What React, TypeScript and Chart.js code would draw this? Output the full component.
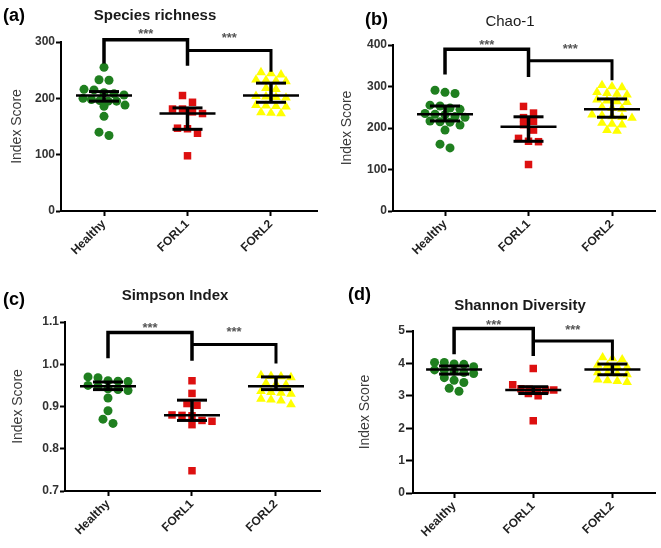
import React, { useEffect, useRef } from 'react';
import { Chart, registerables } from 'chart.js';

Chart.register(...registerables);

const FONT = '"Liberation Sans", Arial, Helvetica, sans-serif';

const categories = ['Healthy', 'FORL1', 'FORL2'];

// (a) Species richness
const richnessHealthy = [255, 233, 232, 216, 215, 210, 208, 206, 200, 198, 196, 195, 195, 188, 186, 168, 140, 134];
const richnessFORL1 = [205, 193, 181, 181, 176, 173, 147, 146, 138, 98];
const richnessFORL2 = [246, 244, 242, 233, 232, 231, 230, 218, 216, 204, 203, 202, 201, 188, 187, 186, 185, 175, 174, 173];
const richnessMean = [205, 173, 205];
const richnessLow = [195, 145, 193];
const richnessHigh = [212, 183, 227];
const richnessTicks = [0, 100, 200, 300];
const richnessBracket = [304, 262, 258, 285, 247];
const richnessStars = [318, 311];

// (b) Chao-1
const chaoHealthy = [291, 286, 283, 255, 253, 248, 245, 235, 233, 232, 228, 226, 217, 215, 214, 207, 195, 161, 152];
const chaoFORL1 = [252, 236, 225, 216, 208, 195, 175, 168, 167, 112];
const chaoFORL2 = [303, 300, 298, 286, 284, 282, 280, 268, 266, 264, 262, 250, 248, 246, 232, 230, 228, 226, 224, 212, 210, 208, 195, 193];
const chaoMean = [233, 203, 245];
const chaoLow = [217, 168, 226];
const chaoHigh = [253, 227, 270];
const chaoTicks = [0, 100, 200, 300, 400];
const chaoBracket = [390, 329, 323, 362, 315];
const chaoStars = [406, 396];

// (c) Simpson Index
const simpsonHealthy = [0.97, 0.968, 0.961, 0.96, 0.959, 0.95, 0.948, 0.942, 0.94, 0.938, 0.92, 0.89, 0.87, 0.86];
const simpsonFORL1 = [0.961, 0.931, 0.907, 0.903, 0.88, 0.879, 0.878, 0.867, 0.865, 0.857, 0.748];
const simpsonFORL2 = [0.974, 0.972, 0.971, 0.969, 0.955, 0.953, 0.951, 0.936, 0.934, 0.932, 0.93, 0.918, 0.916, 0.914, 0.905];
const simpsonMean = [0.948, 0.879, 0.948];
const simpsonLow = [0.94, 0.867, 0.94];
const simpsonHigh = [0.958, 0.915, 0.97];
const simpsonTicks = [0.7, 0.8, 0.9, 1.0, 1.1];
const simpsonBracket = [1.075, 1.014, 1.008, 1.047, 1.002];
const simpsonStars = [1.091, 1.082];

// (d) Shannon Diversity
const shannonHealthy = [4.03, 4.03, 3.98, 3.97, 3.9, 3.8, 3.79, 3.76, 3.72, 3.69, 3.56, 3.48, 3.41, 3.23, 3.14];
const shannonFORL1 = [3.84, 3.34, 3.22, 3.2, 3.19, 3.18, 3.18, 3.07, 3.0, 2.23];
const shannonFORL2 = [4.18, 4.15, 4.12, 3.95, 3.93, 3.9, 3.88, 3.72, 3.7, 3.68, 3.66, 3.5, 3.47, 3.45, 3.42];
const shannonMean = [3.81, 3.18, 3.81];
const shannonLow = [3.67, 3.07, 3.65];
const shannonHigh = [3.92, 3.28, 3.98];
const shannonTicks = [0, 1, 2, 3, 4, 5];
const shannonBracket = [5.08, 4.28, 4.23, 4.69, 4.1];
const shannonStars = [5.25, 5.12];

type Box = { left: number; top: number; w: number; h: number };
type Area = { left: number; top: number; right: number; bottom: number };
type Panel = {
  letter: string;
  title: string;
  titleWeight: string;
  groups: number[][];
  mean: number[];
  low: number[];
  high: number[];
  ticks: number[];
  decimals: number;
  bracket: number[];
  stars: number[];
  box: Box;
  area: Area;
  xMin: number;
  xMax: number;
  titlePos: [number, number];
  letterPos: [number, number];
  yTitlePad: number;
  tickLen: number;
};

const panels: Panel[] = [
  {
    letter: '(a)', title: 'Species richness', titleWeight: 'bold',
    groups: [richnessHealthy, richnessFORL1, richnessFORL2],
    mean: richnessMean, low: richnessLow, high: richnessHigh,
    ticks: richnessTicks, decimals: 0, bracket: richnessBracket, stars: richnessStars,
    box: { left: 0, top: 0, w: 330, h: 270 },
    area: { left: 61, top: 42, right: 317, bottom: 211 },
    xMin: 0.485, xMax: 3.551,
    titlePos: [155, 16], letterPos: [3, 16.5], yTitlePad: 9, tickLen: 5,
  },
  {
    letter: '(b)', title: 'Chao-1', titleWeight: 'normal',
    groups: [chaoHealthy, chaoFORL1, chaoFORL2],
    mean: chaoMean, low: chaoLow, high: chaoHigh,
    ticks: chaoTicks, decimals: 0, bracket: chaoBracket, stars: chaoStars,
    box: { left: 330, top: 0, w: 331, h: 270 },
    area: { left: 63, top: 45, right: 325, bottom: 211 },
    xMin: 0.377, xMax: 3.515,
    titlePos: [180, 20], letterPos: [35, 20.5], yTitlePad: 9, tickLen: 5,
  },
  {
    letter: '(c)', title: 'Simpson Index', titleWeight: 'bold',
    groups: [simpsonHealthy, simpsonFORL1, simpsonFORL2],
    mean: simpsonMean, low: simpsonLow, high: simpsonHigh,
    ticks: simpsonTicks, decimals: 1, bracket: simpsonBracket, stars: simpsonStars,
    box: { left: 0, top: 270, w: 330, h: 278 },
    area: { left: 65, top: 52, right: 320, bottom: 221 },
    xMin: 0.488, xMax: 3.524,
    titlePos: [175, 26], letterPos: [3, 30], yTitlePad: 10, tickLen: 5,
  },
  {
    letter: '(d)', title: 'Shannon Diversity', titleWeight: 'bold',
    groups: [shannonHealthy, shannonFORL1, shannonFORL2],
    mean: shannonMean, low: shannonLow, high: shannonHigh,
    ticks: shannonTicks, decimals: 0, bracket: shannonBracket, stars: shannonStars,
    box: { left: 330, top: 270, w: 331, h: 278 },
    area: { left: 83, top: 61, right: 331, bottom: 223 },
    xMin: 0.481, xMax: 3.543,
    titlePos: [190, 36], letterPos: [18, 25], yTitlePad: 27, tickLen: 7,
  },
];

const groupStyles = [
  { pointStyle: 'circle', radius: 4.5, color: '#1f7f1f' },
  { pointStyle: 'rect', radius: 5.3, color: '#dd1010' },
  { pointStyle: 'triangle', radius: 5.6, color: '#ffff00' },
];

// GraphPad-like column scatter: values within one marker height share a centred row,
// rows wider than the column are compressed.
function swarm(values: number[], center: number, step: number, maxHalf: number, tol: number) {
  const order = values.map((_, i) => i).sort((a, b) => values[b] - values[a]);
  const pts: { x: number; y: number }[] = new Array(values.length);
  let row: number[] = [];
  const flush = () => {
    const n = row.length;
    const half = Math.min(((n - 1) / 2) * step, maxHalf);
    row.forEach((k, j) => {
      const off = n > 1 ? -half + (2 * half * j) / (n - 1) : 0;
      pts[k] = { x: center + off, y: values[k] };
    });
    row = [];
  };
  for (const k of order) {
    if (row.length && values[row[0]] - values[k] >= tol) flush();
    row.push(k);
  }
  flush();
  return pts;
}

function makeOverlay(p: Panel) {
  return {
    id: 'overlay' + p.letter,
    afterDatasetsDraw(chart: any) {
      const { ctx } = chart;
      const xs = chart.scales.x;
      const ys = chart.scales.y;
      const X = (v: number) => xs.getPixelForValue(v);
      const Y = (v: number) => ys.getPixelForValue(v);
      ctx.save();
      ctx.strokeStyle = '#000';
      ctx.lineCap = 'butt';
      const line = (x1: number, y1: number, x2: number, y2: number, w: number) => {
        ctx.lineWidth = w;
        ctx.beginPath();
        ctx.moveTo(x1, y1);
        ctx.lineTo(x2, y2);
        ctx.stroke();
      };
      for (let i = 0; i < 3; i++) {
        const cx = X(i + 1);
        const my = Y(p.mean[i]);
        const ly = Y(p.low[i]);
        const hy = Y(p.high[i]);
        line(cx, ly, cx, hy, 3.5);
        line(cx - 15, hy, cx + 15, hy, 3);
        line(cx - 15, ly, cx + 15, ly, 3);
        line(cx - 28, my, cx + 28, my, 2.5);
      }
      // significance brackets
      const [top1, foot1, foot2, top2, foot3] = p.bracket;
      const x1 = X(1), x2 = X(2), x3 = X(3);
      ctx.lineJoin = 'miter';
      ctx.lineWidth = 3.5;
      ctx.beginPath();
      ctx.moveTo(x1, Y(foot1));
      ctx.lineTo(x1, Y(top1));
      ctx.lineTo(x2, Y(top1));
      ctx.lineTo(x2, Y(foot2));
      ctx.stroke();
      ctx.lineWidth = 3;
      ctx.beginPath();
      ctx.moveTo(x2, Y(top2));
      ctx.lineTo(x3, Y(top2));
      ctx.lineTo(x3, Y(foot3));
      ctx.stroke();
      // stars
      ctx.font = `bold 13px ${FONT}`;
      ctx.fillStyle = '#555';
      ctx.textAlign = 'center';
      ctx.textBaseline = 'alphabetic';
      const drawCentered = (t: string, x: number, y: number) => {
        const m = ctx.measureText(t);
        const off = (m.actualBoundingBoxAscent - m.actualBoundingBoxDescent) / 2;
        ctx.fillText(t, x, y + off);
      };
      drawCentered('***', (x1 + x2) / 2, Y(p.stars[0]));
      drawCentered('***', (x2 + x3) / 2, Y(p.stars[1]));
      // panel title and letter
      ctx.fillStyle = '#1a1a1a';
      ctx.font = `${p.titleWeight} 15px ${FONT}`;
      ctx.textAlign = 'center';
      drawCentered(p.title, p.titlePos[0], p.titlePos[1]);
      ctx.fillStyle = '#000';
      ctx.font = `bold 18px ${FONT}`;
      ctx.textAlign = 'left';
      drawCentered(p.letter, p.letterPos[0], p.letterPos[1]);
      ctx.restore();
    },
  };
}

function PanelChart({ p }: { p: Panel }) {
  const ref = useRef<HTMLCanvasElement | null>(null);
  useEffect(() => {
    if (!ref.current) return;
    const yMin = p.ticks[0];
    const yMax = p.ticks[p.ticks.length - 1];
    const unitPx = (p.area.right - p.area.left) / (p.xMax - p.xMin);
    const step = 10 / unitPx;
    const maxHalf = 21 / unitPx;
    const tol = (7 * (yMax - yMin)) / (p.area.bottom - p.area.top);
    const datasets = p.groups.map((vals, i) => ({
      type: 'scatter' as const,
      data: swarm(vals, i + 1, step, maxHalf, tol),
      pointStyle: groupStyles[i].pointStyle,
      pointRadius: groupStyles[i].radius,
      backgroundColor: groupStyles[i].color,
      borderColor: groupStyles[i].color,
      borderWidth: 0,
    }));
    const chart = new Chart(ref.current, {
      type: 'scatter',
      data: { datasets: datasets as any },
      plugins: [makeOverlay(p)],
      options: {
        responsive: false,
        animation: false,
        events: [],
        layout: {
          padding: { left: 0, top: p.area.top, right: p.box.w - p.area.right, bottom: 0 },
        },
        plugins: {
          legend: { display: false },
          tooltip: { enabled: false },
          title: { display: false },
        },
        scales: {
          x: {
            type: 'linear',
            min: p.xMin,
            max: p.xMax,
            afterBuildTicks: (s: any) => {
              s.ticks = [1, 2, 3].map((v) => ({ value: v }));
            },
            afterFit: (s: any) => {
              s.height = p.box.h - p.area.bottom;
            },
            ticks: {
              callback: (v: any) => categories[Math.round(Number(v)) - 1] ?? '',
              minRotation: 45,
              maxRotation: 45,
              autoSkip: false,
              padding: 1,
              color: '#222',
              font: { family: FONT, size: 12, weight: 'bold' },
            },
            grid: { drawOnChartArea: false, drawTicks: true, tickLength: 5, tickWidth: 2, tickColor: '#000' },
            border: { display: true, color: '#000', width: 2 },
          },
          y: {
            type: 'linear',
            min: yMin,
            max: yMax,
            afterBuildTicks: (s: any) => {
              s.ticks = p.ticks.map((v) => ({ value: v }));
            },
            afterFit: (s: any) => {
              s.width = p.area.left;
            },
            ticks: {
              callback: (v: any) => Number(v).toFixed(p.decimals),
              padding: 1,
              color: '#333',
              font: { family: FONT, size: 12, weight: 'bold' },
            },
            grid: { drawOnChartArea: false, drawTicks: true, tickLength: p.tickLen, tickWidth: 2, tickColor: '#000' },
            border: { display: true, color: '#000', width: 2 },
            title: {
              display: true,
              text: 'Index Score',
              color: '#3a3a3a',
              font: { family: FONT, size: 14, weight: 'normal' },
              padding: { top: p.yTitlePad, bottom: 0 },
            },
          },
        },
      } as any,
    });
    return () => chart.destroy();
  }, [p]);
  return (
    <canvas
      ref={ref}
      width={p.box.w}
      height={p.box.h}
      style={{ position: 'absolute', left: p.box.left, top: p.box.top, width: p.box.w, height: p.box.h }}
    />
  );
}

export default function App() {
  return (
    <div style={{ position: 'absolute', left: 0, top: 0, width: 661, height: 548, background: '#fff' }}>
      {panels.map((p) => (
        <PanelChart key={p.letter} p={p} />
      ))}
    </div>
  );
}
